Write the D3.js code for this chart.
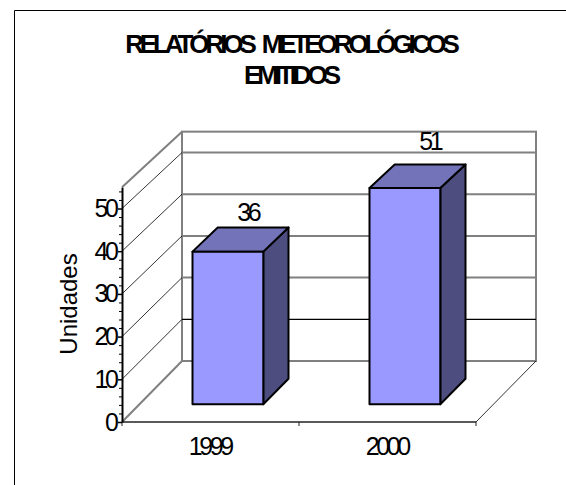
<!DOCTYPE html>
<html>

<head>
    <meta charset="utf-8">
    <title>Relatórios Meteorológicos Emitidos</title>
    <script src="https://d3js.org/d3.v7.min.js" charset="utf-8"></script>
    <style type="text/css">
        body {
            margin: 0;
            background: #fff;
        }

        text {
            font-family: "Liberation Sans", Arial, sans-serif;
            fill: #000;
        }
    </style>
</head>

<body>
<script type="text/javascript">
    // chart data
    var titleLines = ["RELATÓRIOS METEOROLÓGICOS", "EMITIDOS"];
    var categories = ["1999", "2000"];
    var values = [36, 51];
    var yTicks = [0, 10, 20, 30, 40, 50];
    var yMax = 55;
    var yTitle = "Unidades";

    var width = 566,
        height = 485;

    // floor front edge and depth of the 3d box
    var x0 = 122, x1 = 476, y0 = 422;
    var depth = { dx: 60, dy: -61 };
    var barDepth = [0.29, 0.71];
    var tight = -3.4; // excel squeezes its letters together

    var gray = "#808080";
    var faceColor = "#9999FF",
        topColor = "#7373B9",
        sideColor = "#4D4D80";

    var svg = d3.select("body").append("svg")
        .attr("width", width)
        .attr("height", height);

    var x = d3.scaleBand()
        .domain(categories)
        .range([x0, x1])
        .paddingInner(0.6)
        .paddingOuter(0.3);

    // front plane and back wall have slightly different vertical scales
    var yFront = d3.scaleLinear().domain([0, yMax]).range([y0, y0 - yMax * 4.27]);
    var yBack = d3.scaleLinear().domain([0, yMax]).range([y0 + depth.dy, y0 + depth.dy - yMax * 4.17]);

    function px(xv, d) { return xv + d * depth.dx; }
    function py(v, d) { return yFront(v) * (1 - d) + yBack(v) * d; }

    // centred text; the trailing negative letter spacing is undone by shifting half of it
    function addText(g, str, tx, ty, size, spacing) {
        spacing = spacing || tight;
        return g.append("text")
            .attr("x", tx + spacing / 2)
            .attr("y", ty)
            .attr("text-anchor", "middle")
            .style("font-size", size + "px")
            .style("letter-spacing", spacing + "px")
            .text(str);
    }

    // outer frame (runs off the right and bottom of the picture)
    svg.append("path")
        .attr("d", "M14.5," + height + "V10.5H" + width)
        .attr("fill", "none")
        .attr("stroke", "#000")
        .attr("stroke-width", 1);

    // title
    var cx = 292.5;
    titleLines.forEach(function (line, i) {
        addText(svg, line, cx, 53 + i * 31, 26, -4.1)
            .style("font-weight", "bold")
            .style("word-spacing", "6px");
    });

    var walls = svg.append("g");

    // back wall
    walls.append("rect")
        .attr("x", px(x0, 1))
        .attr("y", yBack(yMax))
        .attr("width", px(x1, 1) - px(x0, 1))
        .attr("height", yBack(0) - yBack(yMax))
        .attr("fill", "none")
        .attr("stroke", gray)
        .attr("stroke-width", 2);

    // gridlines on back wall + left wall
    yTicks.filter(function (v) { return v > 0; }).forEach(function (v) {
        walls.append("line")
            .attr("x1", px(x0, 1)).attr("x2", px(x1, 1))
            .attr("y1", yBack(v)).attr("y2", yBack(v))
            .attr("stroke", v == 10 ? "#000" : gray)
            .attr("stroke-width", v == 10 ? 1.2 : 2);
        walls.append("line")
            .attr("x1", x0).attr("y1", yFront(v))
            .attr("x2", px(x0, 1)).attr("y2", yBack(v))
            .attr("stroke", "#000")
            .attr("stroke-width", 0.8);
    });

    // left wall top and floor edges
    walls.append("line")
        .attr("x1", x0).attr("y1", yFront(yMax))
        .attr("x2", px(x0, 1)).attr("y2", yBack(yMax))
        .attr("stroke", gray).attr("stroke-width", 2);
    walls.append("line")
        .attr("x1", x0).attr("y1", yFront(0))
        .attr("x2", px(x0, 1)).attr("y2", yBack(0))
        .attr("stroke", gray).attr("stroke-width", 2);
    walls.append("line")
        .attr("x1", x1).attr("y1", yFront(0))
        .attr("x2", px(x1, 1)).attr("y2", yBack(0))
        .attr("stroke", "#000").attr("stroke-width", 0.8);

    // category axis along the floor front edge
    walls.append("line")
        .attr("x1", x0).attr("x2", x1)
        .attr("y1", y0).attr("y2", y0)
        .attr("stroke", "#222").attr("stroke-width", 1.5);
    d3.range(categories.length + 1).forEach(function (i) {
        var tx = x0 + i * x.step();
        walls.append("line")
            .attr("x1", tx).attr("x2", tx)
            .attr("y1", y0).attr("y2", y0 + 4)
            .attr("stroke", "#222").attr("stroke-width", 1);
    });
    categories.forEach(function (c) {
        addText(svg, c, x(c) + x.bandwidth() / 2 + 1, 455, 25);
    });

    // bars
    var bars = svg.append("g")
        .attr("stroke", "#000")
        .attr("stroke-width", 2)
        .attr("stroke-linejoin", "round");

    categories.forEach(function (c, i) {
        var v = values[i];
        var dA = barDepth[0], dB = barDepth[1];
        var xl = x(c), xr = x(c) + x.bandwidth();
        var pts = function (arr) {
            return arr.map(function (p) { return px(p[0], p[1]) + "," + py(p[2], p[1]); }).join(" ");
        };
        // right side
        bars.append("polygon")
            .attr("points", pts([[xr, dA, 0], [xr, dB, 0], [xr, dB, v], [xr, dA, v]]))
            .attr("fill", sideColor);
        // top
        bars.append("polygon")
            .attr("points", pts([[xl, dA, v], [xl, dB, v], [xr, dB, v], [xr, dA, v]]))
            .attr("fill", topColor);
        // front
        bars.append("polygon")
            .attr("points", pts([[xl, dA, 0], [xr, dA, 0], [xr, dA, v], [xl, dA, v]]))
            .attr("fill", faceColor);

        // value label, placed like Excel does above the box
        var lx = x(c) + x.bandwidth() / 2 + depth.dx * 0.45 + v / 3;
        var ly = py(v * 1.12, 0.5);
        addText(svg, v, lx, ly, 25);
    });

    // value axis on the front left edge
    var yAxis = d3.axisLeft(yFront)
        .tickValues(yTicks)
        .tickSizeInner(4)
        .tickSizeOuter(0)
        .tickPadding(0);

    var minor = d3.axisLeft(yFront)
        .tickValues(d3.range(0, yMax, 2).filter(function (v) { return v % 10 != 0; }))
        .tickSize(3)
        .tickFormat("");

    var gMinor = svg.append("g")
        .attr("transform", "translate(" + x0 + ",0)")
        .call(minor);
    gMinor.select(".domain").remove();
    gMinor.selectAll("line").attr("stroke", "#000");

    var gy = svg.append("g")
        .attr("transform", "translate(" + x0 + ",0)")
        .call(yAxis)
        .attr("font-family", null)
        .attr("font-size", null);
    gy.select(".domain").attr("stroke", "#000").attr("stroke-width", 2);
    gy.selectAll(".tick line").attr("stroke", "#000").attr("stroke-width", 1.5);
    gy.selectAll(".tick text")
        .attr("x", -3 + tight)
        .style("font-size", "25px")
        .style("letter-spacing", tight + "px");

    // axis title
    svg.append("text")
        .attr("transform", "translate(77,304) rotate(-90)")
        .attr("text-anchor", "middle")
        .style("font-size", "24px")
        .text(yTitle);
</script>
</body>

</html>
